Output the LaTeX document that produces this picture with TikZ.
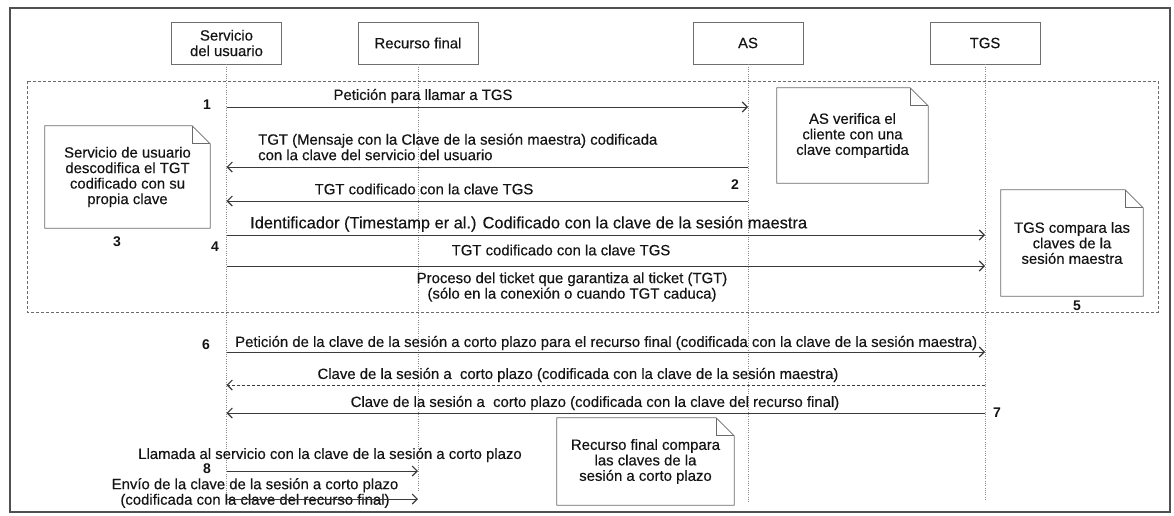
\documentclass[tikz,border=0pt]{standalone}
\usepackage{fontspec}
\setmainfont{Liberation Sans}
\newfontfamily\diafont[FakeBold=0.35]{Liberation Sans}
\usetikzlibrary{arrows.meta}
\definecolor{txt}{HTML}{141414}
\definecolor{boxc}{HTML}{6E6E6E}
\definecolor{lifec}{HTML}{8A8A8A}
\definecolor{msgc}{HTML}{3A3A3A}
\definecolor{notec}{HTML}{6A6A6A}
\definecolor{framec}{HTML}{505050}
\newcommand\foldnote[2]{%
  \draw[notec, line width=0.7pt] (#1.north west) -- ([xshift=-#2]#1.north east) -- ([yshift=-#2]#1.north east) -- (#1.south east) -- (#1.south west) -- cycle;
  \draw[notec, line width=0.7pt] ([xshift=-#2]#1.north east) |- ([yshift=-#2]#1.north east);}
\begin{document}
\begin{tikzpicture}[x=1pt,y=-1pt,
  every node/.style={font=\diafont\fontsize{14.9}{15.5}\selectfont, text=txt, inner sep=0pt},
  actor/.style={draw=boxc, line width=0.7pt, minimum height=42pt, align=center},
  life/.style={draw=lifec, line width=0.7pt, dash pattern=on 1pt off 1.3pt},
  msg/.style={draw=msgc, line width=0.8pt, -{Straight Barb[length=5pt,width=10pt,line width=1.1pt]}},
  ret/.style={msg, dash pattern=on 3pt off 2pt},
  num/.style={font=\fontsize{14}{15}\selectfont\bfseries},
  notebox/.style={align=center},
]
\useasboundingbox (0,0) rectangle (1174,515);
% frames
\draw[framec, line width=1.4pt] (10,8) rectangle (1170,512);
\draw[notec, line width=0.8pt, dash pattern=on 3pt off 2pt] (27,81) rectangle (1158,312);
% actors
\node[actor, minimum width=110pt] (su) at (226.5,43) {Servicio\\del usuario};
\node[actor, minimum width=120pt] (rf) at (418,43) {Recurso final};
\node[actor, minimum width=110pt] (as) at (748,43) {AS};
\node[actor, minimum width=110pt] (tgs) at (985,43) {TGS};
% lifelines
\coordinate (su-e) at (su |- 0,503);
\coordinate (rf-e) at (rf |- 0,490);
\coordinate (as-e) at (as |- 0,503);
\coordinate (tgs-e) at (tgs |- 0,500);
\draw[life] (su) -- (su-e);
\draw[life] (rf) -- (rf-e);
\draw[life] (as) -- (as-e);
\draw[life] (tgs) -- (tgs-e);
% notes
\node[notebox, minimum width=165pt, minimum height=102pt] (n3) at (127.5,177) {Servicio de usuario\\descodifica el TGT\\codificado con su\\propia clave};
\foldnote{n3}{18pt}
\node[notebox, minimum width=151pt, minimum height=95pt] (nas) at (852.5,135.5) {AS verifica el\\cliente con una\\clave compartida};
\foldnote{nas}{18pt}
\node[notebox, minimum width=142pt, minimum height=106pt] (n5) at (1072,243) {TGS compara las\\claves de la\\sesión maestra};
\foldnote{n5}{18pt}
\node[notebox, minimum width=177pt, minimum height=87pt] (n8) at (645.5,461.5) {Recurso final compara\\las claves de la\\sesión a corto plazo};
\foldnote{n8}{18pt}
% messages
\node (l1) at (423,96) {Petición para llamar a TGS};
\draw[msg] (su |- 0,107) -- (as |- 0,107);
\node[anchor=west, align=left] (l2) at (258,147) {TGT (Mensaje con la Clave de la sesión maestra) codificada\\con la clave del servicio del usuario};
\draw[msg] (as |- 0,167) -- (su |- 0,167);
\node (l3) at (424,189) {TGT codificado con la clave TGS};
\draw[msg] (as |- 0,201) -- (su |- 0,201);
\node[anchor=west, font=\diafont\fontsize{16.4}{17}\selectfont] (l4a) at (250,224) {Identificador (Timestamp er al.) Codificado con la clave de la sesión maestra};
\draw[msg] (su |- 0,235) -- (tgs |- 0,235);
\node (l4b) at (561,250) {TGT codificado con la clave TGS};
\draw[msg] (su |- 0,266) -- (tgs |- 0,266);
\node[align=center] (lp) at (572,287) {Proceso del ticket que garantiza al ticket (TGT)\\(sólo en la conexión o cuando TGT caduca)};
\node[anchor=west] (l6) at (235,343) {Petición de la clave de la sesión a corto plazo para el recurso final (codificada con la clave de la sesión maestra)};
\draw[msg] (su |- 0,352) -- (tgs |- 0,352);
\node (l7a) at (578,375) {Clave de la sesión a\ \ corto plazo (codificada con la clave de la sesión maestra)};
\draw[ret] (tgs |- 0,385) -- (su |- 0,385);
\node (l7b) at (595,403) {Clave de la sesión a\ \ corto plazo (codificada con la clave del recurso final)};
\draw[msg] (tgs |- 0,413) -- (su |- 0,413);
\node (l8a) at (330,455) {Llamada al servicio con la clave de la sesión a corto plazo};
\draw[msg, line width=0.6pt] (su |- 0,471) -- (rf |- 0,471);
\node[align=center] (l8b) at (255,493) {Envío de la clave de la sesión a corto plazo\\(codificada con la clave del recurso final)};
\draw[msg] (su |- 0,499) -- (rf |- 0,499);
% numbers
\node[num] (k1) at (207,105) {1};
\node[num] (k2) at (735,185) {2};
\node[num] (k3) at (117,242) {3};
\node[num] (k4) at (215,247) {4};
\node[num] (k5) at (1077,306) {5};
\node[num] (k6) at (206,345) {6};
\node[num] (k7) at (997,413) {7};
\node[num] (k8) at (207,469) {8};
\end{tikzpicture}
\end{document}
